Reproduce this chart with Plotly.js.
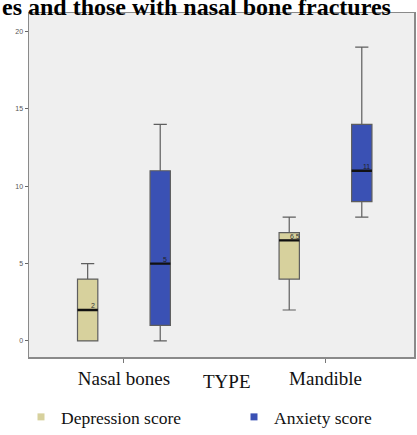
<!DOCTYPE html>
<html>
<head>
<meta charset="utf-8">
<script src="https://cdn.plot.ly/plotly-3.0.1.min.js"></script>
<style>html,body{margin:0;padding:0;background:#fff;}#chart{width:417px;height:435px;}</style>
</head>
<body>
<div id="chart"></div>
<script>
// ---- data ----
const categories = ["Nasal bones", "Mandible"];
const seriesNames = ["Depression score", "Anxiety score"];
const depMin = [0, 2];
const depQ1 = [0, 4];
const depMedian = [2, 6.5];
const depQ3 = [4, 7];
const depMax = [5, 8];
const anxMin = [0, 8];
const anxQ1 = [1, 9];
const anxMedian = [5, 11];
const anxQ3 = [11, 14];
const anxMax = [14, 19];
const yTicks = [0, 5, 10, 15, 20];
const titleText = "es and those with nasal bone fractures";
const xTitle = "TYPE";

const depColor = "#d7d19d";
const anxColor = "#3a51b4";
const whiskerColor = "#5e5e5e";
const serif = "'Liberation Serif', 'Times New Roman', serif";

function boxTrace(name, lo, q1, med, q3, hi, fill, group) {
  return {
    type: "box", name: name, x: categories, lowerfence: lo, q1: q1, median: med, q3: q3, upperfence: hi,
    fillcolor: fill, line: {color: whiskerColor, width: 1.2}, whiskerwidth: 0.65,
    offsetgroup: group, showlegend: false, hoverinfo: "skip", boxpoints: false
  };
}
function medianTrace(med, group) {
  return {
    type: "box", x: categories, lowerfence: med, q1: med, median: med, q3: med, upperfence: med,
    fillcolor: "rgba(0,0,0,0)", line: {color: "#111", width: 2.4}, whiskerwidth: 0,
    offsetgroup: group, showlegend: false, hoverinfo: "skip", boxpoints: false
  };
}
function legendTrace(name, color, leg) {
  return {type: "scatter", mode: "markers", x: [null], y: [null], name: name, legend: leg,
    marker: {symbol: "square", size: 7, color: color}, hoverinfo: "skip"};
}

const data = [
  boxTrace(seriesNames[0], depMin, depQ1, depMedian, depQ3, depMax, depColor, "dep"),
  boxTrace(seriesNames[1], anxMin, anxQ1, anxMedian, anxQ3, anxMax, anxColor, "anx"),
  medianTrace(depMedian, "dep"),
  medianTrace(anxMedian, "anx"),
  legendTrace(seriesNames[0], depColor, "legend"),
  legendTrace(seriesNames[1], anxColor, "legend2")
];

const annotations = [];
categories.forEach((c, i) => {
  annotations.push({x: c, y: depMedian[i], xref: "x", yref: "y", text: String(depMedian[i]),
    showarrow: false, xshift: -31, yshift: 4, font: {family: "Arial", size: 7, color: "#333"}});
  annotations.push({x: c, y: anxMedian[i], xref: "x", yref: "y", text: String(anxMedian[i]),
    showarrow: false, xshift: 41, yshift: 4, font: {family: "Arial", size: 7, color: "#222"}});
});
annotations.push({x: 0.515, y: 0, xref: "paper", yref: "paper", yanchor: "top", yshift: -12,
  text: xTitle, showarrow: false, font: {family: serif, size: 19, color: "#111"}});
annotations.push({x: 0, y: 1, xref: "paper", yref: "paper", xanchor: "left", yanchor: "bottom",
  xshift: -29, yshift: -9, text: "<b>" + titleText + "</b>", showarrow: false,
  font: {family: serif, size: 24, color: "#000"}});

const legendFont = {family: serif, size: 17.5, color: "#111"};
const layout = {
  width: 417, height: 435,
  margin: {l: 29, r: 3, t: 13, b: 78, autoexpand: false},
  paper_bgcolor: "#ffffff", plot_bgcolor: "#efefef",
  boxmode: "group", boxgap: 0.28, boxgroupgap: 0.72,
  showlegend: true,
  legend: {orientation: "h", xref: "container", yref: "container", x: 21 / 417, xanchor: "left",
    y: 1 - 417 / 435, yanchor: "middle", font: legendFont, bgcolor: "rgba(0,0,0,0)"},
  legend2: {orientation: "h", xref: "container", yref: "container", x: 234 / 417, xanchor: "left",
    y: 1 - 417 / 435, yanchor: "middle", font: legendFont, bgcolor: "rgba(0,0,0,0)"},
  xaxis: {type: "category", range: [-0.471, 1.439], showline: true, mirror: true, linecolor: "#8a8a8a", linewidth: 1.5,
    ticks: "outside", ticklen: 4, tickcolor: "#777", showgrid: false, zeroline: false,
    tickfont: {family: serif, size: 19, color: "#111"}},
  yaxis: {range: [-1.04, 21.2], tickvals: yTicks, ticks: "outside", ticklen: 3, tickcolor: "#666",
    showline: true, mirror: true, linecolor: "#8a8a8a", linewidth: 1.5, showgrid: false, zeroline: false,
    tickfont: {family: "Arial", size: 7, color: "#555"}},
  annotations: annotations
};

Plotly.newPlot("chart", data, layout, {displayModeBar: false, staticPlot: true});
</script>
</body>
</html>
